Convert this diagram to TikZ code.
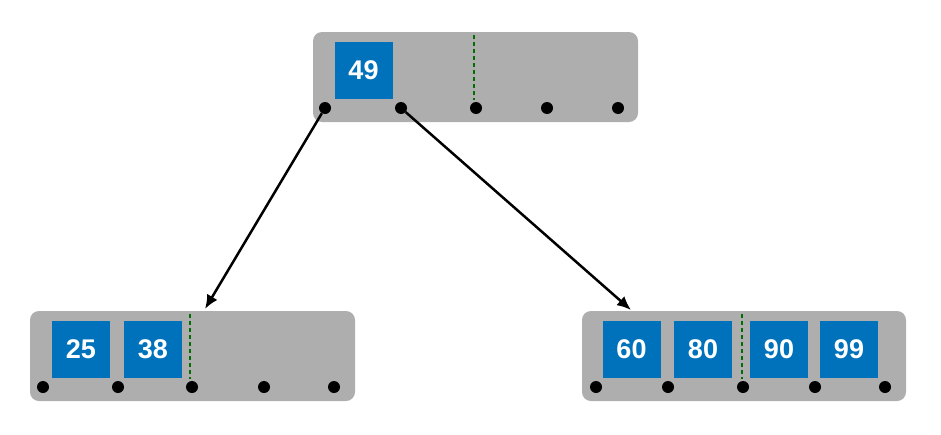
\documentclass[tikz,border=0pt]{standalone}
\usepackage{fontspec}
\usetikzlibrary{arrows.meta}
\setmainfont{Liberation Sans}
\definecolor{pagegray}{RGB}{174,174,174}
\definecolor{keyblue}{RGB}{0,114,188}
\definecolor{splitgreen}{RGB}{0,110,0}
\tikzset{
  page/.style={fill=pagegray,rounded corners=9pt,draw=none},
  key/.style={fill=keyblue,minimum width=58pt,minimum height=57pt,inner sep=0pt,
    text=white,font=\bfseries\fontsize{27}{27}\selectfont},
  ptr/.style={circle,fill=black,minimum size=12pt,inner sep=0pt},
  split/.style={splitgreen,line width=2.5pt,dash pattern=on 4pt off 3pt},
}
\begin{document}
\begin{tikzpicture}[x=1pt,y=-1pt]
\useasboundingbox (0,0) rectangle (941,434);
% pages
\fill[page] (313,32) rectangle (638,122);
\fill[page] (30,311) rectangle (355,401);
\fill[page] (582,311) rectangle (906,401);
% root
\node[key] (k49) at (363.5,70) {49};
\draw[split] (474,35) -- (474,100);
\node[ptr] (r0) at (325,108) {};
\node[ptr] (r1) at (401,108) {};
\node[ptr] (r2) at (476,108) {};
\node[ptr] (r3) at (547,108) {};
\node[ptr] (r4) at (618,108) {};
% left leaf
\node[key] (k25) at (81,349) {25};
\node[key] (k38) at (153,349) {38};
\draw[split] (190,314) -- (190,379);
\node[ptr] (a0) at (43,387) {};
\node[ptr] (a1) at (118,387) {};
\node[ptr] (a2) at (192,387) {};
\node[ptr] (a3) at (264,387) {};
\node[ptr] (a4) at (334,387) {};
% right leaf
\node[key] (k60) at (631.5,349) {60};
\node[key] (k80) at (703,349) {80};
\node[key] (k90) at (779,349) {90};
\node[key] (k99) at (849,349) {99};
\draw[split] (742,314) -- (742,379);
\node[ptr] (b0) at (596,387) {};
\node[ptr] (b1) at (668,387) {};
\node[ptr] (b2) at (743,387) {};
\node[ptr] (b3) at (815,387) {};
\node[ptr] (b4) at (885,387) {};
% children
\coordinate (lefttop) at (205,309);
\coordinate (righttop) at (631,310);
\draw[-{Latex[length=14pt,width=12pt]},line width=2.5pt] (r0) -- (lefttop);
\draw[-{Latex[length=14pt,width=12pt]},line width=2.5pt] (r1) -- (righttop);
\end{tikzpicture}
\end{document}
